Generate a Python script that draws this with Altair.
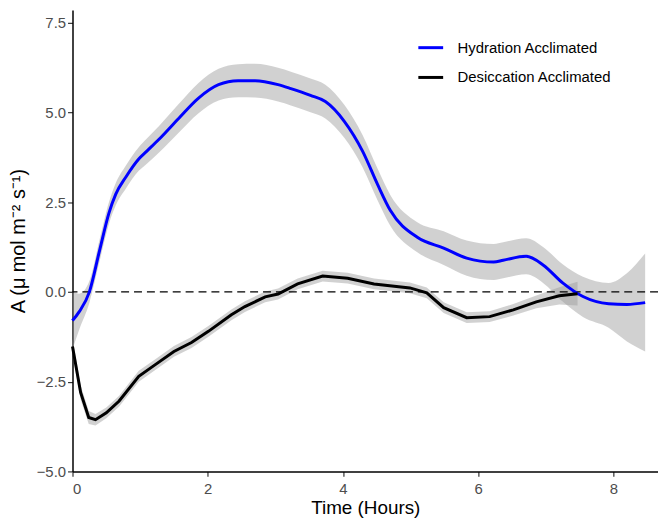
import altair as alt
import pandas as pd

# Hydration Acclimated
hyd_x = [0.0, 0.1, 0.25, 0.4, 0.54, 0.64, 0.79, 0.98, 1.1, 1.28, 1.57, 1.86, 2.16, 2.45, 2.7, 3.04, 3.23, 3.52, 3.74,
         4.02, 4.29, 4.51, 4.7, 5.1, 5.49, 5.83, 6.23, 6.37, 6.71, 6.96, 7.25, 7.55, 7.93, 8.2, 8.47]
hyd_y = [-0.8, -0.55, 0.0, 1.15, 2.2, 2.72, 3.2, 3.7, 3.92, 4.25, 4.83, 5.39, 5.77, 5.88, 5.88, 5.77, 5.66, 5.47, 5.3,
         4.75, 3.92, 3.0, 2.27, 1.52, 1.22, 0.94, 0.83, 0.88, 0.99, 0.75, 0.25, -0.13, -0.33, -0.35, -0.3]
hyd_lo = [-1.6, -1.05, -0.3, 0.85, 1.9, 2.41, 2.88, 3.37, 3.57, 3.88, 4.43, 4.97, 5.33, 5.42, 5.41, 5.3, 5.19, 5.0, 4.83,
          4.29, 3.47, 2.56, 1.84, 1.1, 0.75, 0.45, 0.33, 0.38, 0.49, 0.25, -0.27, -0.7, -1.0, -1.38, -1.66]
hyd_hi = [0.0, -0.05, 0.3, 1.45, 2.5, 3.03, 3.52, 4.03, 4.27, 4.62, 5.23, 5.81, 6.21, 6.34, 6.35, 6.24, 6.13, 5.94, 5.77,
          5.21, 4.37, 3.44, 2.7, 1.94, 1.69, 1.43, 1.33, 1.38, 1.49, 1.25, 0.77, 0.42, 0.25, 0.52, 1.07]

# Desiccation Acclimated
des_x = [0.0, 0.12, 0.24, 0.34, 0.5, 0.69, 0.98, 1.23, 1.5, 1.76, 2.01, 2.35, 2.55, 2.85, 3.04, 3.33, 3.7,
         4.07, 4.46, 4.99, 5.24, 5.49, 5.83, 6.17, 6.52, 6.86, 7.2, 7.47]
des_y = [-1.52, -2.8, -3.5, -3.56, -3.37, -3.04, -2.35, -2.02, -1.66, -1.41, -1.1, -0.64, -0.41, -0.14, -0.06,
         0.22, 0.44, 0.38, 0.22, 0.11, -0.03, -0.44, -0.72, -0.69, -0.5, -0.28, -0.11, -0.05]
des_se = [0.22, 0.2, 0.18, 0.16, 0.15, 0.15, 0.15, 0.15, 0.15, 0.15, 0.15, 0.15, 0.15, 0.15, 0.15,
          0.15, 0.15, 0.15, 0.15, 0.15, 0.15, 0.15, 0.15, 0.15, 0.16, 0.18, 0.24, 0.33]

series = ["Hydration Acclimated", "Desiccation Acclimated"]
colors = ["#0000ff", "#000000"]

rows = []
for x, y, lo, hi in zip(hyd_x, hyd_y, hyd_lo, hyd_hi):
    rows.append({"series": series[0], "x": x, "y": y, "lo": lo, "hi": hi})
for x, y, se in zip(des_x, des_y, des_se):
    rows.append({"series": series[1], "x": x, "y": y, "lo": y - se, "hi": y + se})
df = pd.DataFrame(rows)

xs = alt.Scale(domain=[0, 8.66], nice=False, zero=False)
ys = alt.Scale(domain=[-5, 7.85], nice=False, zero=False)

band_h = alt.Chart(df[df.series == series[0]]).mark_area(
    color="#999999", opacity=0.45, interpolate="monotone"
).encode(
    x=alt.X("x:Q", scale=xs),
    y=alt.Y("lo:Q", scale=ys),
    y2="hi:Q",
)
band_d = alt.Chart(df[df.series == series[1]]).mark_area(
    color="#999999", opacity=0.45, interpolate="linear"
).encode(
    x=alt.X("x:Q", scale=xs),
    y=alt.Y("lo:Q", scale=ys),
    y2="hi:Q",
)

rule = alt.Chart(pd.DataFrame({"y": [0]})).mark_rule(
    color="black", strokeDash=[8, 5], strokeWidth=1.3
).encode(y=alt.Y("y:Q", scale=ys))

color = alt.Color(
    "series:N",
    scale=alt.Scale(domain=series, range=colors),
    sort=series,
    legend=alt.Legend(
        title=None,
        orient="none",
        legendX=347,
        legendY=24,
        symbolType="stroke",
        symbolSize=625,
        symbolStrokeWidth=3,
        labelFontSize=15,
        labelFont="Liberation Sans",
        labelColor="black",
        labelOffset=13,
        rowPadding=8,
    ),
)

line_h = alt.Chart(df[df.series == series[0]]).mark_line(
    strokeWidth=3, interpolate="monotone"
).encode(
    x=alt.X("x:Q", scale=xs,
            axis=alt.Axis(values=[0, 2, 4, 6, 8], format="d", title="Time (Hours)",
                          labelPadding=5, titlePadding=2)),
    y=alt.Y("y:Q", scale=ys,
            axis=alt.Axis(values=[-5, -2.5, 0, 2.5, 5, 7.5], format=".1f",
                          title="A  (μ mol m⁻² s⁻¹)", titleFontSize=20, titlePadding=8)),
    color=color,
)
line_d = alt.Chart(df[df.series == series[1]]).mark_line(
    strokeWidth=3, interpolate="linear"
).encode(
    x=alt.X("x:Q", scale=xs),
    y=alt.Y("y:Q", scale=ys),
    color=color,
)

chart = alt.layer(band_h, band_d, rule, line_h, line_d).properties(
    width=590,
    height=465,
    autosize=alt.AutoSizeParams(type="none"),
    padding={"left": 65, "top": 0, "right": 0, "bottom": 48},
).configure_view(stroke=None).configure_axis(
    grid=False,
    domainColor="black",
    domainWidth=1.5,
    tickColor="#333333",
    tickWidth=1.2,
    tickSize=5,
    labelColor="#4d4d4d",
    labelFont="Liberation Sans",
    labelFontSize=15,
    labelPadding=2,
    titleFont="Liberation Sans",
    titleFontSize=19,
    titleFontWeight="normal",
    titleColor="black",
)

chart.save("out.html", embed_options={"renderer": "svg", "actions": False})
